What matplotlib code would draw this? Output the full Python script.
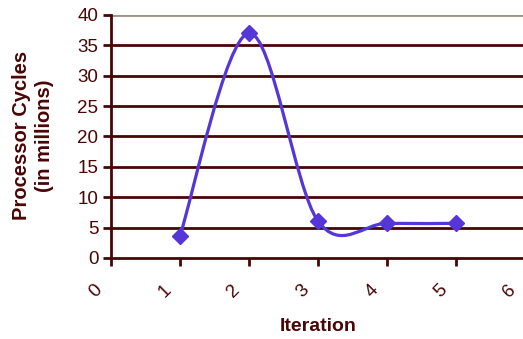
import matplotlib
matplotlib.use("Agg")
import matplotlib.pyplot as plt
from matplotlib.path import Path
from matplotlib.patches import PathPatch
from matplotlib.transforms import ScaledTranslation

plt.rcParams['font.family'] = ['Liberation Sans', 'DejaVu Sans']

iterations = [1, 2, 3, 4, 5]
cycles = [3.6, 37.0, 6.1, 5.7, 5.7]
x_ticks = [0, 1, 2, 3, 4, 5, 6]
y_ticks = [0, 5, 10, 15, 20, 25, 30, 35, 40]

maroon = '#4a0505'
line_col = '#5636d8'

fig = plt.figure(figsize=(5.23, 3.39), dpi=100)
ax = fig.add_axes([0.212, 0.239, 0.7916, 0.717])
ax.set_xlim(0, 6)
ax.set_ylim(0, 40)

# horizontal gridlines
for v in y_ticks[1:]:
    ax.axhline(v, color='#a09080' if v == 40 else maroon, lw=2, zorder=1)

# smoothed line like Excel: cubic Bezier segments through the points
pts = list(zip(iterations, cycles))
verts = [pts[0]]
codes = [Path.MOVETO]
n = len(pts)
for i in range(n - 1):
    p0 = pts[max(i - 1, 0)]
    p1 = pts[i]
    p2 = pts[i + 1]
    p3 = pts[min(i + 2, n - 1)]
    c1 = (p1[0] + (p2[0] - p0[0]) / 6, p1[1] + (p2[1] - p0[1]) / 6)
    c2 = (p2[0] - (p3[0] - p1[0]) / 6, p2[1] - (p3[1] - p1[1]) / 6)
    verts += [c1, c2, p2]
    codes += [Path.CURVE4] * 3
ax.add_patch(PathPatch(Path(verts, codes), fill=False, edgecolor=line_col, lw=2.3, zorder=3))
ax.plot(iterations, cycles, linestyle='none', marker='D', markersize=8,
        color=line_col, zorder=4, clip_on=False)

for s in ['top', 'right']:
    ax.spines[s].set_visible(False)
for s in ['left', 'bottom']:
    ax.spines[s].set_color(maroon)
    ax.spines[s].set_linewidth(2)

ax.set_xticks(x_ticks)
ax.set_yticks(y_ticks)
ax.set_xticklabels([str(v) for v in x_ticks], rotation=45, ha='center', va='center')
ax.tick_params(axis='both', colors=maroon, labelsize=13.5, width=2, length=5.5, direction='out')
ax.tick_params(axis='y', pad=3.5)
ax.tick_params(axis='x', pad=18.5)
shift = ScaledTranslation(-0.15, 0, fig.dpi_scale_trans)
for lab in ax.get_xticklabels():
    lab.set_transform(lab.get_transform() + shift)

ax.set_xlabel('Iteration', fontsize=14, fontweight='bold', color=maroon, labelpad=12)
fig.text(0.063, 0.6, 'Processor Cycles\n(in millions)', rotation=90, ha='center', va='center',
         fontsize=14.5, fontweight='bold', color=maroon, linespacing=1.25)

fig.savefig('out.png', dpi=100)
